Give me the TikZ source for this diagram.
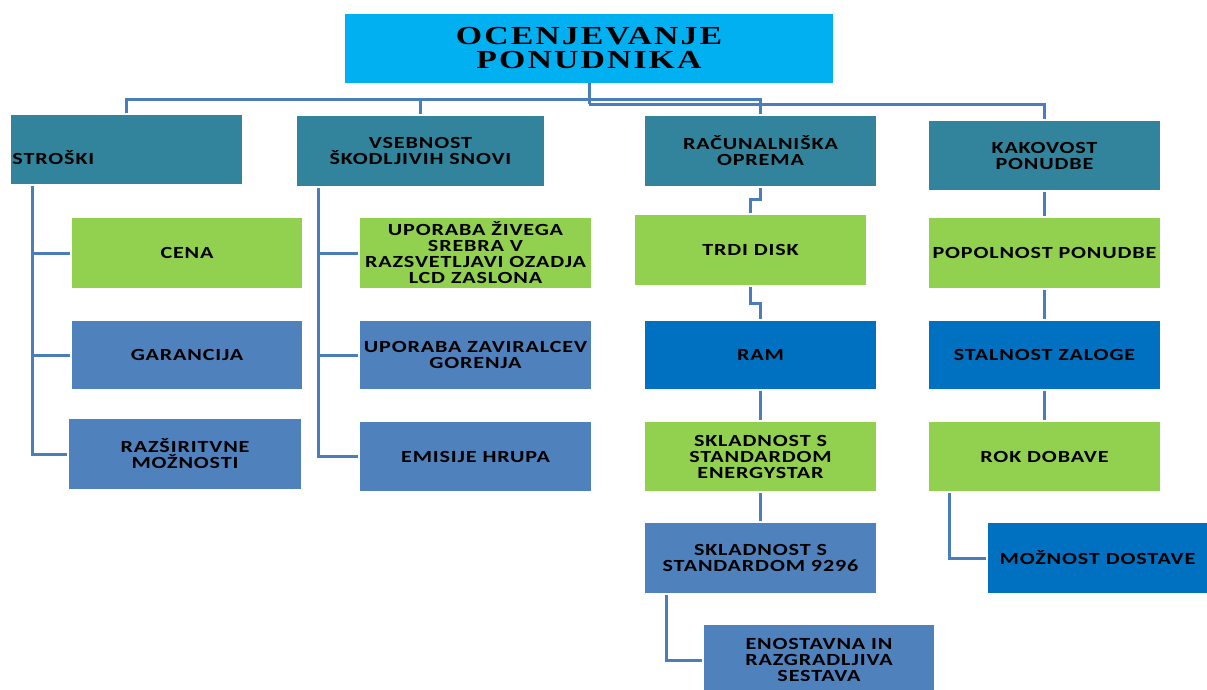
\documentclass[tikz,border=0pt]{standalone}
\usepackage{fontspec}
\usetikzlibrary{calc}
\newfontfamily\boxfont[FakeStretch=1.3,LetterSpace=5]{Carlito}
\newfontfamily\titlefont[FakeStretch=1.3,LetterSpace=8]{Liberation Serif}
\definecolor{cyanT}{HTML}{00B0F0}
\definecolor{tealT}{HTML}{31849B}
\definecolor{greenT}{HTML}{92D050}
\definecolor{blueA}{HTML}{4F81BD}
\definecolor{blueB}{HTML}{0070C0}
\definecolor{lineC}{HTML}{4A7EBB}
\tikzset{
  box/.style={rectangle, inner sep=0pt, align=center, text=black,
    font=\boxfont\bfseries\fontsize{17}{16}\selectfont},
  w231/.style={minimum width=231pt},
  conn/.style={draw=lineC, line width=3pt, shorten <=2pt, shorten >=2pt},
  trunk/.style={draw=lineC, line width=3pt},
}
\begin{document}
\begin{tikzpicture}[x=1pt,y=-1pt]
\useasboundingbox (0,0) rectangle (1207,689);
% root
\node[box, fill=cyanT, minimum width=488pt, minimum height=69pt,
  font=\titlefont\bfseries\fontsize{26}{24}\selectfont] (root) at (589,48.5) {OCENJEVANJE\\PONUDNIKA};
% level 1
\node[box, fill=tealT, minimum width=231pt, minimum height=69pt, text width=228pt, align=left] (s1) at (126.5,149.5) {\smash{\raisebox{-14.5pt}{STROŠKI}}};
\node[box, fill=tealT, minimum width=247pt, minimum height=70pt] (s2) at (420.5,151) {VSEBNOST\\ŠKODLJIVIH SNOVI};
\node[box, fill=tealT, w231, minimum height=70pt] (s3) at (760.5,151) {RAČUNALNIŠKA\\OPREMA};
\node[box, fill=tealT, w231, minimum height=69pt] (s4) at (1044.5,155.5) {KAKOVOST\\PONUDBE};
% column 1
\node[box, fill=greenT, minimum width=230pt, minimum height=70pt] (c1) at (187,253) {CENA};
\node[box, fill=blueA, minimum width=230pt, minimum height=68pt] (c2) at (187,355) {GARANCIJA};
\node[box, fill=blueA, minimum width=232pt, minimum height=70pt] (c3) at (185,454) {RAZŠIRITVNE\\MOŽNOSTI};
% column 2
\node[box, fill=greenT, w231, minimum height=70pt] (d1) at (475.5,253) {UPORABA ŽIVEGA\\SREBRA V\\RAZSVETLJAVI OZADJA\\LCD ZASLONA};
\node[box, fill=blueA, w231, minimum height=68pt] (d2) at (475.5,355) {UPORABA ZAVIRALCEV\\GORENJA};
\node[box, fill=blueA, w231, minimum height=69pt] (d3) at (475.5,456.5) {EMISIJE HRUPA};
% column 3
\node[box, fill=greenT, w231, minimum height=70pt] (e1) at (750.5,250) {TRDI DISK};
\node[box, fill=blueB, w231, minimum height=68pt] (e2) at (760.5,355) {RAM};
\node[box, fill=greenT, w231, minimum height=69pt] (e3) at (760.5,456.5) {SKLADNOST S\\STANDARDOM\\ENERGYSTAR};
\node[box, fill=blueA, w231, minimum height=70pt] (e4) at (760.5,558) {SKLADNOST S\\STANDARDOM 9296};
\node[box, fill=blueA, minimum width=230pt, minimum height=70pt] (e5) at (819,660) {ENOSTAVNA IN\\RAZGRADLJIVA\\SESTAVA};
% column 4
\node[box, fill=greenT, w231, minimum height=70pt] (f1) at (1044.5,253) {POPOLNOST PONUDBE};
\node[box, fill=blueB, w231, minimum height=68pt] (f2) at (1044.5,355) {STALNOST ZALOGE};
\node[box, fill=greenT, w231, minimum height=69pt] (f3) at (1044.5,456.5) {ROK DOBAVE};
\node[box, fill=blueB, w231, minimum height=70pt] (f4) at (1103.5,558) {\hspace*{-12pt}MOŽNOST DOSTAVE};
% root connectors
\coordinate (j1) at ($(root.south)+(0,16)$);
\coordinate (j2) at ($(root.south)+(0,21)$);
\draw[trunk] (root.south) -- (j2);
\draw[conn, shorten <=0pt] (j1) -| (s1.north);
\draw[conn, shorten <=0pt] (j1) -| (s2.north);
\draw[conn, shorten <=0pt] (j1) -| (s3.north);
\draw[conn, shorten <=0pt] (j2) -| (s4.north);
% column 1 connectors
\coordinate (a1) at ($(s1.south west)+(22,0)$);
\draw[conn] (a1) |- (c1.west);
\draw[conn] (a1) |- (c2.west);
\draw[conn] (a1) |- (c3.west);
% column 2 connectors
\coordinate (a2) at ($(s2.south west)+(22,0)$);
\draw[conn] (a2) |- (d1.west);
\draw[conn] (a2) |- (d2.west);
\draw[conn] (a2) |- (d3.west);
% column 3 connectors
\draw[conn] (s3.south) -- ++(0,13) -| (e1.north);
\draw[conn] (e1.south) -- ++(0,18) -| (e2.north);
\draw[conn] (e2.south) -- (e3.north);
\draw[conn] (e3.south) -- (e4.north);
\coordinate (a3) at ($(e4.south west)+(22,0)$);
\draw[conn] (a3) |- (e5.west);
% column 4 connectors
\draw[conn] (s4.south) -- (f1.north);
\draw[conn] (f1.south) -- (f2.north);
\draw[conn] (f2.south) -- (f3.north);
\coordinate (a4) at ($(f3.south west)+(21,0)$);
\draw[conn] (a4) |- (f4.west);
\end{tikzpicture}
\end{document}
